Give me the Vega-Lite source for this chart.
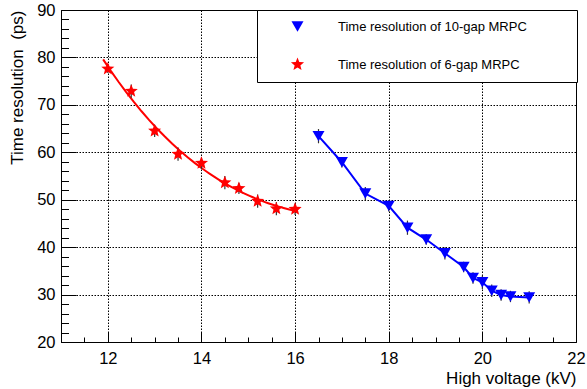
{
  "$schema": "https://vega.github.io/schema/vega-lite/v6.json",
  "width": 515,
  "height": 332,
  "autosize": "none",
  "padding": {"left": 61, "top": 10, "right": 11, "bottom": 47},
  "background": "white",
  "config": {
    "font": "Liberation Sans",
    "view": {"stroke": "black", "strokeWidth": 1},
    "axis": {
      "domainColor": "black",
      "tickColor": "black",
      "labelColor": "black",
      "titleColor": "black",
      "labelFont": "Liberation Sans",
      "titleFont": "Liberation Sans",
      "labelFontSize": 16.5,
      "titleFontSize": 17,
      "titleFontWeight": "normal",
      "labelFlush": false,
      "labelOverlap": false,
      "labelBound": false
    }
  },
  "data": {
    "values": [
      {"series": "Time resolution of 6-gap MRPC", "hv": 12.0, "t": 77.6, "err": 0.9},
      {"series": "Time resolution of 6-gap MRPC", "hv": 12.5, "t": 72.9, "err": 1.4},
      {"series": "Time resolution of 6-gap MRPC", "hv": 13.0, "t": 64.5, "err": 1.3},
      {"series": "Time resolution of 6-gap MRPC", "hv": 13.5, "t": 59.6, "err": 1.4},
      {"series": "Time resolution of 6-gap MRPC", "hv": 14.0, "t": 57.7, "err": 1.2},
      {"series": "Time resolution of 6-gap MRPC", "hv": 14.5, "t": 53.6, "err": 1.4},
      {"series": "Time resolution of 6-gap MRPC", "hv": 14.8, "t": 52.4, "err": 1.2},
      {"series": "Time resolution of 6-gap MRPC", "hv": 15.2, "t": 49.7, "err": 1.4},
      {"series": "Time resolution of 6-gap MRPC", "hv": 15.6, "t": 48.1, "err": 1.4},
      {"series": "Time resolution of 6-gap MRPC", "hv": 16.0, "t": 48.0, "err": 1.2},
      {"series": "Time resolution of 10-gap MRPC", "hv": 16.5, "t": 63.4, "err": 1.5},
      {"series": "Time resolution of 10-gap MRPC", "hv": 17.0, "t": 57.9, "err": 1.1},
      {"series": "Time resolution of 10-gap MRPC", "hv": 17.5, "t": 51.3, "err": 1.4},
      {"series": "Time resolution of 10-gap MRPC", "hv": 18.0, "t": 48.7, "err": 1.2},
      {"series": "Time resolution of 10-gap MRPC", "hv": 18.4, "t": 44.1, "err": 1.5},
      {"series": "Time resolution of 10-gap MRPC", "hv": 18.8, "t": 41.6, "err": 1.1},
      {"series": "Time resolution of 10-gap MRPC", "hv": 19.2, "t": 38.7, "err": 1.3},
      {"series": "Time resolution of 10-gap MRPC", "hv": 19.6, "t": 35.8, "err": 1.1},
      {"series": "Time resolution of 10-gap MRPC", "hv": 19.8, "t": 33.5, "err": 1.2},
      {"series": "Time resolution of 10-gap MRPC", "hv": 20.0, "t": 32.6, "err": 1.4},
      {"series": "Time resolution of 10-gap MRPC", "hv": 20.2, "t": 30.8, "err": 1.3},
      {"series": "Time resolution of 10-gap MRPC", "hv": 20.4, "t": 29.9, "err": 1.2},
      {"series": "Time resolution of 10-gap MRPC", "hv": 20.6, "t": 29.6, "err": 1.2},
      {"series": "Time resolution of 10-gap MRPC", "hv": 21.0, "t": 29.4, "err": 1.3}
    ]
  },
  "layer": [
    {
      "transform": [
        {"filter": "datum.series === 'Time resolution of 6-gap MRPC'"},
        {"regression": "t", "on": "hv", "method": "poly", "order": 3, "extent": [11.9, 16.0]}
      ],
      "mark": {"type": "line", "color": "#ff0000", "strokeWidth": 2},
      "encoding": {
        "x": {"field": "hv", "type": "quantitative", "scale": {"domain": [11, 22], "nice": false, "zero": false},
          "axis": {"orient": "bottom", "values": [11.5, 12.5, 13, 13.5, 14.5, 15, 15.5, 16.5, 17, 17.5, 18.5, 19, 19.5, 20.5, 21, 21.5], "tickSize": -5, "labels": false, "domain": false, "grid": false, "title": null}},
        "y": {"field": "t", "type": "quantitative", "scale": {"domain": [20, 90], "nice": false, "zero": false},
          "axis": {"orient": "left", "values": [22, 24, 26, 28, 32, 34, 36, 38, 42, 44, 46, 48, 52, 54, 56, 58, 62, 64, 66, 68, 72, 74, 76, 78, 82, 84, 86, 88], "tickSize": -7.5, "labels": false, "domain": false, "grid": false, "title": null}}
      }
    },
    {
      "transform": [{"filter": "datum.series === 'Time resolution of 10-gap MRPC'"}],
      "mark": {"type": "line", "color": "#0000ff", "strokeWidth": 2},
      "encoding": {
        "x": {"field": "hv", "type": "quantitative", "axis": null},
        "y": {"field": "t", "type": "quantitative", "axis": null}
      }
    },
    {
      "mark": {"type": "errorbar", "rule": {"stroke": "#333333", "strokeWidth": 1.2}},
      "encoding": {
        "x": {"field": "hv", "type": "quantitative", "axis": null},
        "y": {"field": "t", "type": "quantitative", "axis": null},
        "yError": {"field": "err"}
      }
    },
    {
      "mark": {"type": "point", "filled": true, "opacity": 1, "size": 144, "strokeWidth": 0},
      "encoding": {
        "x": {"field": "hv", "type": "quantitative",
          "axis": {"orient": "bottom", "values": [12, 14, 16, 18, 20, 22], "tickSize": -10, "labelPadding": 18, "grid": true, "gridColor": "black", "gridDash": [1.5, 1.5], "gridOpacity": 1,
            "title": "High voltage (kV)", "titleAnchor": "end", "titlePadding": 4}},
        "y": {"field": "t", "type": "quantitative",
          "axis": {"orient": "left", "values": [20, 30, 40, 50, 60, 70, 80, 90], "tickSize": -15, "labelPadding": 21, "grid": true, "gridColor": "black", "gridDash": [1.5, 1.5], "gridOpacity": 1,
            "title": "Time resolution\u00a0\u00a0(ps)", "titleAnchor": "end", "titlePadding": 10}},
        "color": {"field": "series", "type": "nominal",
          "scale": {"domain": ["Time resolution of 10-gap MRPC", "Time resolution of 6-gap MRPC"], "range": ["#0000ff", "#ff0000"]},
          "legend": {"orient": "none", "legendX": 196, "legendY": 0, "title": null, "fillColor": "white", "strokeColor": "black", "padding": 10, "rowPadding": 23, "symbolOffset": 24, "labelOffset": 34, "labelFontSize": 13, "labelFont": "Liberation Sans", "labelColor": "black", "symbolSize": 144, "symbolStrokeWidth": 0, "labelLimit": 400, "cornerRadius": 0,
            "labelExpr": "datum.label + '\u2800\u2800\u2800\u2800'"}},
        "shape": {"field": "series", "type": "nominal",
          "scale": {"domain": ["Time resolution of 10-gap MRPC", "Time resolution of 6-gap MRPC"], "range": ["triangle-down", "M0,-1.15L0.294,-0.405L1.094,-0.355L0.476,0.155L0.676,0.93L0,0.5L-0.676,0.93L-0.476,0.155L-1.094,-0.355L-0.294,-0.405Z"]}}
      }
    }
  ],
  "resolve": {"axis": {"x": "independent", "y": "independent"}}
}
